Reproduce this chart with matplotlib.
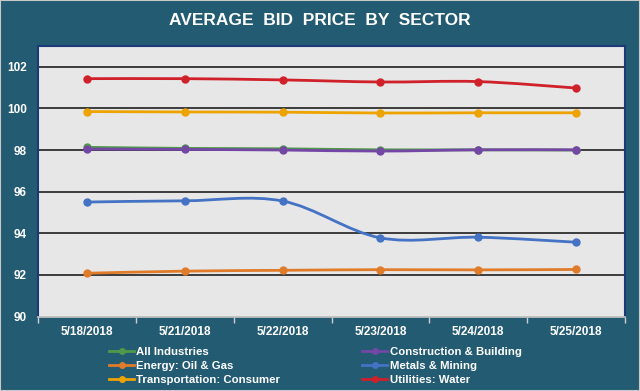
import matplotlib.pyplot as plt
import numpy as np
from matplotlib.path import Path
from matplotlib.patches import PathPatch
from matplotlib.lines import Line2D

dates = ["5/18/2018", "5/21/2018", "5/22/2018", "5/23/2018", "5/24/2018", "5/25/2018"]

all_industries = [98.13, 98.08, 98.06, 98.01, 98.01, 98.00]
construction = [98.05, 98.03, 98.00, 97.95, 98.01, 98.01]
energy = [92.08, 92.18, 92.22, 92.25, 92.24, 92.26]
metals = [95.50, 95.56, 95.55, 93.78, 93.81, 93.57]
transportation = [99.85, 99.83, 99.82, 99.78, 99.79, 99.79]
utilities = [101.43, 101.43, 101.37, 101.27, 101.29, 100.98]

series = [
    ("All Industries", all_industries, "#4f9a48"),
    ("Energy: Oil & Gas", energy, "#e07b2a"),
    ("Transportation: Consumer", transportation, "#eda300"),
    ("Construction & Building", construction, "#7446a6"),
    ("Metals & Mining", metals, "#4472c4"),
    ("Utilities: Water", utilities, "#d0202a"),
]
draw_order = [4, 1, 2, 0, 3, 5]

BG = "#235b73"


def smooth_path(x, y):
    # Excel style smoothed line: cubic bezier through points
    pts = np.column_stack([x, y]).astype(float)
    verts = [pts[0]]
    codes = [Path.MOVETO]
    n = len(pts)
    for i in range(n - 1):
        p0 = pts[i - 1] if i > 0 else pts[i]
        p1 = pts[i]
        p2 = pts[i + 1]
        p3 = pts[i + 2] if i + 2 < n else pts[i + 1]
        c1 = p1 + (p2 - p0) / 6.0
        c2 = p2 - (p3 - p1) / 6.0
        verts += [c1, c2, p2]
        codes += [Path.CURVE4] * 3
    return Path(verts, codes)


fig = plt.figure(figsize=(6.4, 3.91), dpi=100, facecolor=BG)
fig.patches.append(plt.Rectangle((0, 0), 1, 1, transform=fig.transFigure,
                                 fill=False, edgecolor="#c8c8c8", lw=1.5))
ax = fig.add_axes([38 / 640, 1 - 316.5 / 391, 587 / 640, 270.5 / 391])
ax.set_facecolor("#e7e7e7")

x = np.arange(len(dates))
for idx in draw_order:
    name, vals, col = series[idx]
    ax.add_patch(PathPatch(smooth_path(x, vals), fill=False, edgecolor=col,
                           lw=2, zorder=3, capstyle="round"))
    ax.plot(x, vals, "o", color=col, ms=5, zorder=4)

ax.set_xlim(-0.5, 5.5)
ax.set_ylim(90, 103)
ax.set_yticks(np.arange(90, 103, 2))
ax.set_xticks(x)
ax.set_xticklabels(dates)
ax.set_xticks(np.arange(-0.5, 6, 1), minor=True)
ax.tick_params(axis="x", which="major", length=0, pad=7)
ax.tick_params(axis="x", which="minor", length=4, color="#cfcfcf", width=1)
ax.tick_params(axis="y", length=0, pad=8)
for lab in ax.get_xticklabels() + ax.get_yticklabels():
    lab.set_color("white")
    lab.set_fontweight("bold")
    lab.set_fontsize(8.5)
    lab.set_family("Liberation Sans")

for v in range(92, 103, 2):
    ax.axhline(v, color="#2e2e2e", lw=1.3, zorder=1)

for s in ["top", "right", "left"]:
    ax.spines[s].set_color("#1a3a7a")
    ax.spines[s].set_linewidth(1.5)
ax.spines["bottom"].set_color("#bfbfbf")
ax.spines["bottom"].set_linewidth(1.3)

fig.text(0.5, 1 - 20.5 / 391, "AVERAGE  BID  PRICE  BY  SECTOR", color="white",
         fontsize=12.5, fontweight="bold", family="Liberation Sans",
         ha="center", va="center")

handles = [Line2D([0], [0], color=c, lw=2, marker="o", ms=4) for _, _, c in series]
labels = [n for n, _, _ in series]
leg = fig.legend(handles, labels, ncol=2, loc="upper left",
                 bbox_to_anchor=(109 / 640, 1 - 347 / 391), frameon=False,
                 handlelength=2.2, handletextpad=0.2, columnspacing=7.2,
                 labelspacing=0.36, borderaxespad=0, borderpad=0,
                 prop={"family": "Liberation Sans", "weight": "bold", "size": 8.2})
for t in leg.get_texts():
    t.set_color("white")

fig.savefig("out.png", dpi=100, facecolor=BG)
